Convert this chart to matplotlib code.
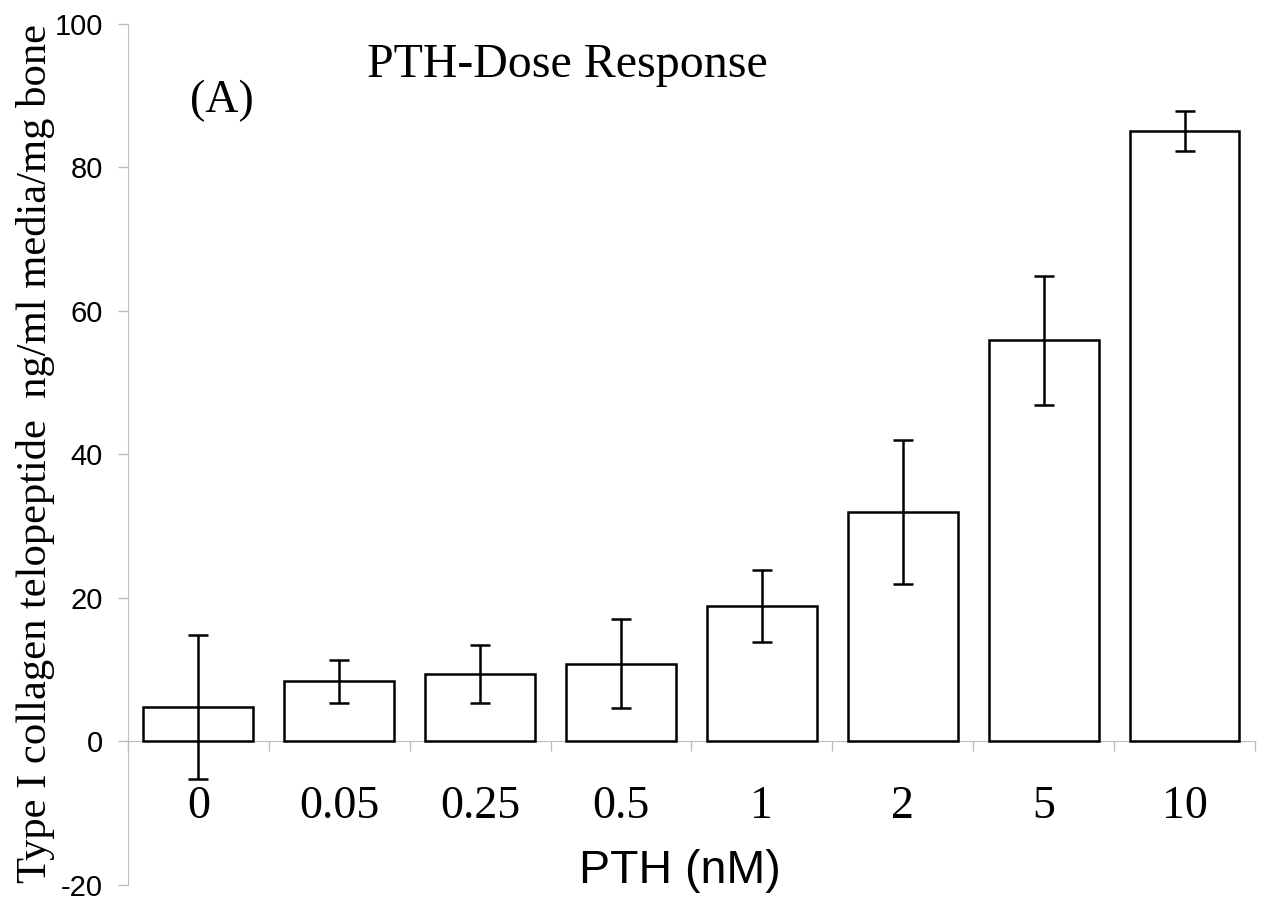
import numpy as np
import matplotlib
matplotlib.use("Agg")
import matplotlib.pyplot as plt

plt.rcParams["axes.unicode_minus"] = False

doses = ["0", "0.05", "0.25", "0.5", "1", "2", "5", "10"]
means = [4.8, 8.4, 9.4, 10.8, 18.9, 32.0, 55.9, 85.1]
errs = [10.1, 3.0, 4.0, 6.2, 5.0, 10.0, 9.0, 2.8]

serif = "Liberation Serif"
sans = "Liberation Sans"
gray = "#bdbdbd"

fig = plt.figure(figsize=(12.67, 9.01), dpi=100)
ax = fig.add_axes([0.101, 0.0178, 0.8895, 0.9556])

x = np.arange(len(doses))
ax.bar(x, means, width=0.78, color="white", edgecolor="black", linewidth=1.8, zorder=2)
ax.errorbar(x, means, yerr=errs, fmt="none", ecolor="black", elinewidth=1.8,
            capsize=7, capthick=1.8, zorder=3)

ax.set_xlim(-0.5, len(doses) - 0.5)
ax.set_ylim(-20, 100)
ax.set_yticks(np.arange(-20, 101, 20))
ax.tick_params(axis="y", direction="out", length=7, width=1, color=gray,
               labelsize=21, pad=11)
for lab in ax.get_yticklabels():
    lab.set_fontfamily(sans)

for s in ["top", "right"]:
    ax.spines[s].set_visible(False)
ax.spines["left"].set_color(gray)
ax.spines["bottom"].set_position(("data", 0))
ax.spines["bottom"].set_color(gray)
ax.spines["bottom"].set_zorder(1)

ax.set_xticks(x)
ax.set_xticklabels(doses, fontfamily=serif, fontsize=33)
ax.set_xticks(np.arange(-0.5, len(doses), 1.0), minor=True)
ax.tick_params(axis="x", which="major", length=0, pad=32)
ax.tick_params(axis="x", which="minor", direction="out", length=7, width=1, color=gray)

ax.text(3.42, -19.7, "PTH (nM)", fontfamily=sans, fontsize=33.5,
        ha="center", va="baseline")
ax.text(2.62, 92.6, "PTH-Dose Response", fontfamily=serif, fontsize=34.5,
        ha="center", va="baseline")
ax.text(0.17, 87.7, "(A)", fontfamily=serif, fontsize=33,
        ha="center", va="baseline")

fig.text(0.028, 0.497, "Type I collagen telopeptide  ng/ml media/mg bone",
         fontfamily=serif, fontsize=30.7, rotation=90, ha="center", va="center")

fig.savefig("out.png", dpi=100)
